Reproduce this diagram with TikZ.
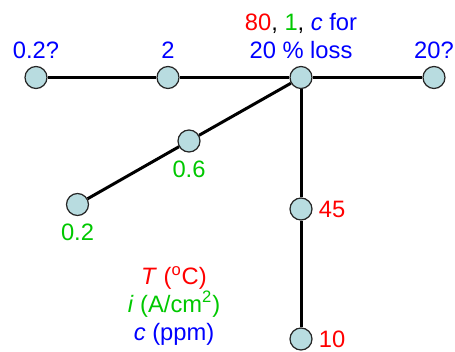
\documentclass[tikz,border=0pt]{standalone}
\usepackage{fontspec}
\setmainfont{Liberation Sans}
\usepackage{tikz}
\usetikzlibrary{positioning}
\usepackage{xcolor}
\definecolor{sitefill}{RGB}{184,220,224}
\definecolor{tred}{RGB}{255,0,0}
\definecolor{igreen}{RGB}{0,200,0}
\definecolor{cblue}{RGB}{0,0,255}

\begin{document}
\begin{tikzpicture}[
  site/.style={circle, draw=black!85, fill=sitefill, minimum size=0.44cm, inner sep=0pt, line width=0.7pt},
  link/.style={line width=1.7pt},
  lbl/.style={font=\fontsize{13.5}{15.9}\selectfont, inner sep=0pt, text depth=0pt}
]
  \useasboundingbox (0,0) rectangle (9.1,7.02);

  % sites
  \node[site] (hub)  at (6.02,5.47) {};
  \node[site] (c02q) at (0.72,5.47) {};
  \node[site] (c2)   at (3.36,5.47) {};
  \node[site] (c20q) at (8.68,5.47) {};
  \node[site] (i06)  at (3.78,4.20) {};
  \node[site] (i02)  at (1.55,2.93) {};
  \node[site] (t45)  at (6.02,2.84) {};
  \node[site] (t10)  at (6.02,0.24) {};

  % labels
  \node[lbl, cblue, above=0.14cm of c02q] (lc02q) {0.2?};
  \node[lbl, cblue, above=0.14cm of c2] (lc2) {2};
  \node[lbl, cblue, above=0.14cm of c20q] (lc20q) {20?};
  \node[lbl, align=center, above=0.14cm of hub] (lhub)
    {\textcolor{tred}{80}, \textcolor{igreen}{1}, \textcolor{cblue}{\textit{c} for}\\ \textcolor{cblue}{20 \% loss}};
  \node[lbl, igreen, below=0.16cm of i06] (li06) {0.6};
  \node[lbl, igreen, below=0.15cm of i02] (li02) {0.2};
  \node[lbl, tred, right=0.12cm of t45] (lt45) {45};
  \node[lbl, tred, right=0.12cm of t10] (lt10) {10};

  % legend
  \node[lbl, tred, anchor=base] (legT) at (3.48,1.32) {\textit{T} (\textsuperscript{o}C)};
  \node[lbl, igreen, anchor=base] (legI) at (3.48,0.78) {\textit{i} (A/cm\textsuperscript{2})};
  \node[lbl, cblue, anchor=base] (legC) at (3.48,0.22) {\textit{c} (ppm)};

  % connectors
  \begin{scope}[link]
    \draw (c02q) -- (c2);
    \draw (c2) -- (hub);
    \draw (hub) -- (c20q);
    \draw (hub) -- (i06);
    \draw (i06) -- (i02);
    \draw (hub) -- (t45);
    \draw (t45) -- (t10);
  \end{scope}
\end{tikzpicture}
\end{document}
